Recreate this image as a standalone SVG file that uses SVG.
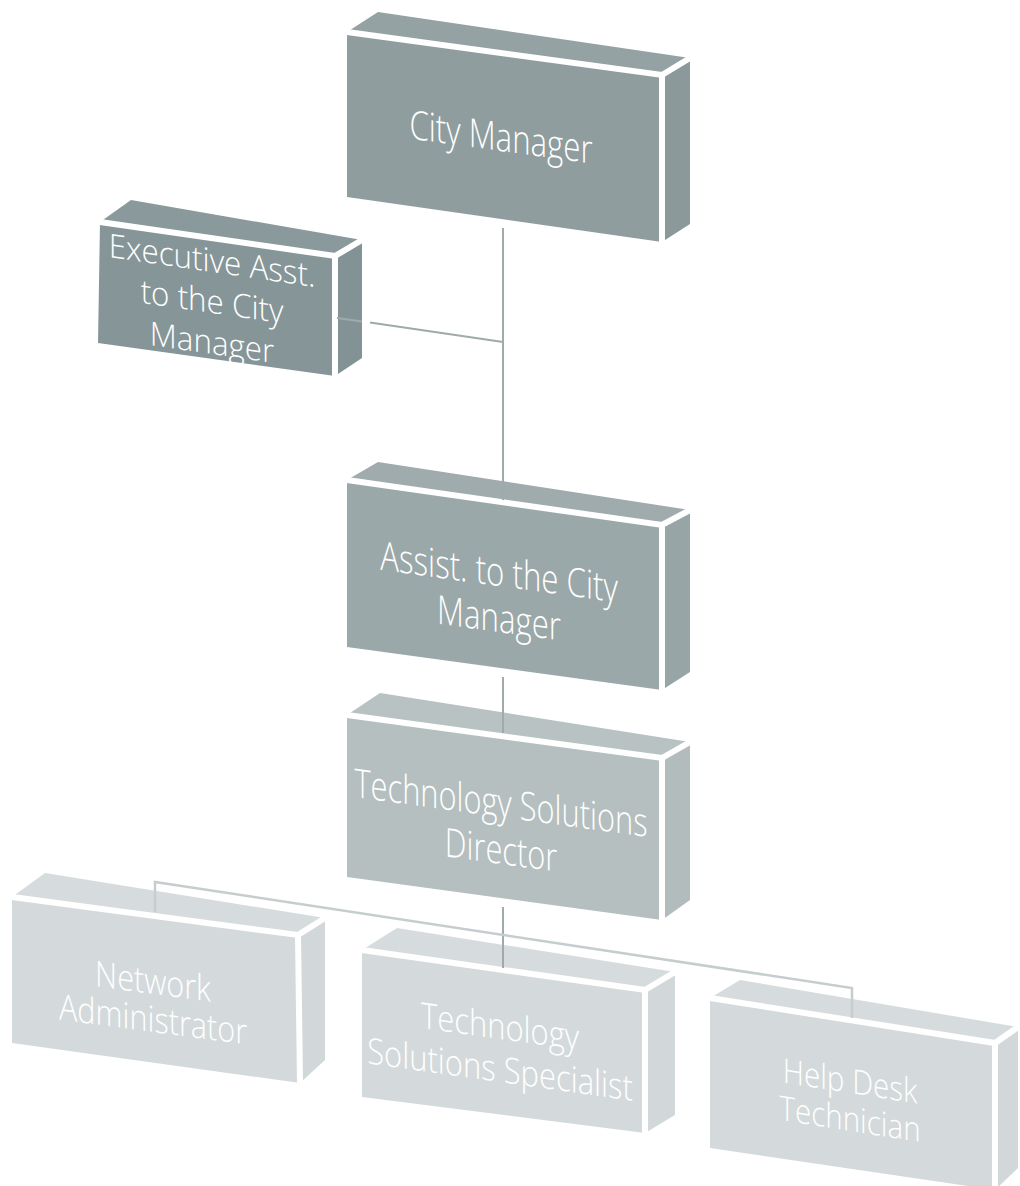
<svg xmlns="http://www.w3.org/2000/svg" width="1020" height="1186" viewBox="0 0 1020 1186">
<style>
.edge{fill:none;stroke:#ffffff;stroke-width:6;stroke-linejoin:miter}
.lbl{font-family:"Open Sans","Noto Sans",sans-serif;font-weight:300;fill:#ffffff;text-anchor:middle}
.con{fill:none;stroke:#a0aaab;stroke-width:2}
.conl{fill:none;stroke:#c6cdce;stroke-width:2.5}
</style>
<rect width="1020" height="1186" fill="#ffffff"/>

<g id="city-manager">
<polygon points="347,32 378,12 690,58 662,75" fill="#94a2a3"/>
<polygon points="662,75 690,58 690,224 662,242" fill="#8b999b"/>
<polygon points="347,32 662,75 662,242 347,197" fill="#8f9d9f"/>
<polyline class="edge" points="347,32 662,75 690,58"/>
<line class="edge" x1="662" y1="75" x2="662" y2="242"/>
<g transform="matrix(0.78,0.107,0,1,501,151)"><text class="lbl" font-size="40" x="0" y="0">City Manager</text></g>
</g>

<g id="exec-asst">
<polygon points="100,222 131,200 362,240 335,256" fill="#8a9a9c"/>
<polygon points="335,256 362,240 362,358 335,376" fill="#839395"/>
<polygon points="100,222 335,256 335,376 98,343" fill="#869698"/>
<polyline class="edge" points="100,222 335,256 362,240" stroke-width="5"/>
<line class="edge" x1="335" y1="256" x2="335" y2="376" stroke-width="5"/>
<g transform="matrix(0.95,0.138,0,1,212,272)"><text class="lbl" font-size="33"><tspan x="0" y="0">Executive Asst.</tspan><tspan x="0" y="41">to the City</tspan><tspan x="0" y="82">Manager</tspan></text></g>
</g>

<g id="assist">
<polygon points="347,480 378,462 690,510 662,525" fill="#9fabac"/>
<polygon points="662,525 690,510 690,672 662,690" fill="#98a5a6"/>
<polygon points="347,480 662,525 662,690 347,647" fill="#9ba8a9"/>
<polyline class="edge" points="347,480 662,525 690,510"/>
<line class="edge" x1="662" y1="525" x2="662" y2="690"/>
<g transform="matrix(0.78,0.107,0,1,499,586)"><text class="lbl" font-size="40"><tspan x="0" y="0">Assist. to the City</tspan><tspan x="0" y="46">Manager</tspan></text></g>
</g>

<g id="director">
<polygon points="347,715 380,693 690,742 662,758" fill="#b8c2c3"/>
<polygon points="662,758 690,742 690,900 662,920" fill="#b2bcbd"/>
<polygon points="347,715 662,758 662,920 347,877" fill="#b5bfc0"/>
<polyline class="edge" points="347,715 662,758 690,742"/>
<line class="edge" x1="662" y1="758" x2="662" y2="920"/>
<g transform="matrix(0.77,0.105,0,1,501,817)"><text class="lbl" font-size="40"><tspan x="0" y="0">Technology Solutions</tspan><tspan x="0" y="47">Director</tspan></text></g>
</g>

<g id="network-admin">
<polygon points="12,897 45,873 325,918 298,935" fill="#d6dcdd"/>
<polygon points="298,935 325,918 325,1060 300,1083" fill="#d2d8d9"/>
<polygon points="12,897 298,935 300,1083 12,1043" fill="#d4dadb"/>
<polyline class="edge" points="12,897 298,935 325,918" stroke-width="5"/>
<line class="edge" x1="298" y1="935" x2="300" y2="1083" stroke-width="5"/>
<g transform="matrix(0.85,0.113,0,1,153,994)"><text class="lbl" font-size="36"><tspan x="0" y="0">Network</tspan><tspan x="0" y="38">Administrator</tspan></text></g>
</g>

<g id="tech-specialist">
<polygon points="362,950 397,928 675,972 645,990" fill="#d6dcdd"/>
<polygon points="645,990 675,972 675,1115 645,1133" fill="#d2d8d9"/>
<polygon points="362,950 645,990 645,1133 362,1097" fill="#d4dadb"/>
<polyline class="edge" points="362,950 645,990 675,972" stroke-width="5"/>
<line class="edge" x1="645" y1="990" x2="645" y2="1133" stroke-width="5"/>
<g transform="matrix(0.86,0.121,0,1,500,1039)"><text class="lbl" font-size="36"><tspan x="0" y="0">Technology</tspan><tspan x="0" y="43">Solutions Specialist</tspan></text></g>
</g>

<g id="help-desk">
<polygon points="710,998 740,980 1018,1027 995,1043" fill="#d6dcdd"/>
<polygon points="995,1043 1018,1027 1018,1168 995,1190" fill="#d2d8d9"/>
<polygon points="710,998 995,1043 995,1190 710,1148" fill="#d4dadb"/>
<polyline class="edge" points="710,998 995,1043 1018,1027" stroke-width="5"/>
<line class="edge" x1="995" y1="1043" x2="995" y2="1190" stroke-width="5"/>
<g transform="matrix(0.87,0.137,0,1,850,1093)"><text class="lbl" font-size="34"><tspan x="0" y="0">Help Desk</tspan><tspan x="0" y="38">Technician</tspan></text></g>
</g>

<g id="connectors">
<line class="con" x1="503" y1="228" x2="503" y2="500"/>
<line class="con" x1="337" y1="318" x2="362" y2="321.5"/>
<line class="con" x1="370" y1="322.5" x2="503" y2="342"/>
<line class="con" x1="503" y1="677" x2="503" y2="733"/>
<line class="con" x1="503" y1="907" x2="503" y2="968"/>
<polyline class="conl" points="155,912 155,882 852,988 852,1018"/>
</g>
</svg>
